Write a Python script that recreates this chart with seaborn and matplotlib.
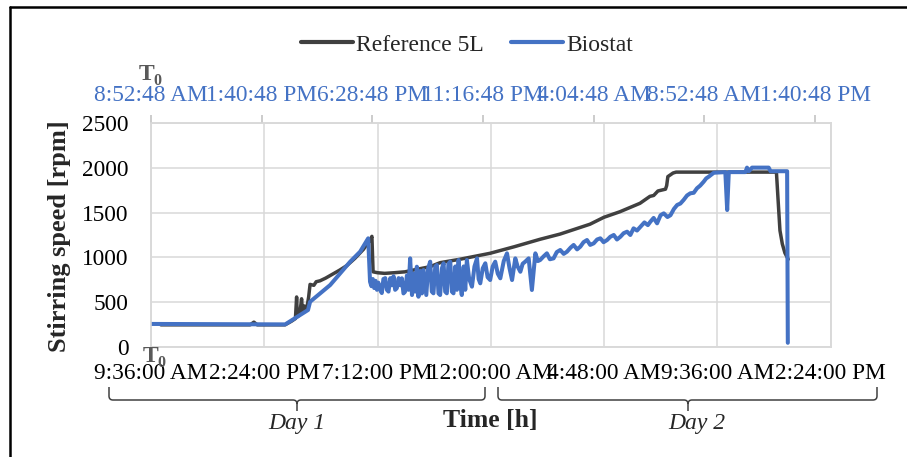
import numpy as np
import pandas as pd
import matplotlib
matplotlib.use("Agg")
import matplotlib.pyplot as plt
import seaborn as sns
from matplotlib.path import Path
from matplotlib.patches import PathPatch
from matplotlib.lines import Line2D

# ---------------- data ----------------
# Reference 5L: hours since 9:36:00 AM (bottom axis)
ref_h = [0.42, 4.2, 4.36, 4.5, 5.68, 5.95, 6.12, 6.17, 6.2, 6.3, 6.38, 6.42, 6.5, 6.6, 6.68,
         6.74, 6.9, 7.0, 7.16, 7.4, 7.6, 8.0, 8.3, 8.64, 9.0, 9.3, 9.36, 9.41, 9.6, 9.9,
         10.3, 10.76, 11.3, 11.82, 12.25, 13.09, 14.36, 15.4, 16.48, 17.33, 18.6,
         19.19, 19.87, 20.72, 21.14, 21.3, 21.48, 21.8, 21.85, 21.9, 22.12, 22.25,
         26.5, 26.58, 26.65, 26.75, 26.86, 27.0]
ref_rpm = [250, 250, 280, 250, 250, 290, 320, 560, 340, 360, 540, 380, 460, 430, 560,
           700, 690, 730, 740, 770, 800, 860, 910, 990, 1090, 1200, 1235, 840, 830, 823,
           830, 840, 870, 897, 942, 980, 1046, 1120, 1202, 1260, 1370,
           1447, 1509, 1603, 1680, 1690, 1740, 1760, 1800, 1900, 1940, 1950,
           1950, 1600, 1300, 1150, 1050, 980]

# Biostat: hours since 8:52:48 AM (top axis)
bio_h = [0, 5.82, 6.81, 6.9, 7.77, 8.64, 9.07, 9.42, 9.5,
         9.56, 9.62, 9.68, 9.74, 9.8, 9.86, 9.92, 10.01, 10.08, 10.16, 10.23, 10.3,
         10.38, 10.45, 10.52, 10.59, 10.66, 10.74, 10.81, 10.88, 10.95, 11.02, 11.1,
         11.17, 11.24, 11.32, 11.4, 11.46, 11.53, 11.6, 11.68, 11.75, 11.82, 11.94,
         12.02, 12.11, 12.18, 12.25, 12.33, 12.4, 12.47, 12.54, 12.62, 12.69, 12.76,
         12.83, 12.9, 12.98, 13.05, 13.12, 13.2, 13.27, 13.34, 13.41, 13.48, 13.56,
         13.63, 13.7, 13.8, 13.92, 14.03, 14.14, 14.21, 14.28, 14.39, 14.5, 14.6,
         14.71, 14.82, 14.93, 15.04, 15.15, 15.3, 15.44, 15.55, 15.66, 15.8, 15.9,
         16.02, 16.12, 16.23, 16.38, 16.52, 16.67, 16.78, 16.88, 17.02, 17.17, 17.3,
         17.46, 17.6, 17.75, 17.9, 18.04, 18.2, 18.33, 18.48, 18.62, 18.76, 18.91,
         19.05, 19.2, 19.35, 19.49, 19.63, 19.78, 19.92, 20.07, 20.21, 20.36, 20.5,
         20.65, 20.79, 20.93, 21.08, 21.22, 21.4, 21.55, 21.66, 21.8, 21.95, 22.1,
         22.24, 22.4, 22.53, 22.68, 22.82, 22.96, 23.1, 23.25, 23.39, 23.54, 23.68,
         23.82, 23.97, 24.08, 24.19, 24.41, 24.91, 24.99, 25.06, 25.78, 25.85, 25.93,
         26.07, 26.79, 26.87, 27.59, 27.62]
bio_rpm = [260, 255, 415, 507, 693, 953, 1064, 1213, 730,
           680, 760, 660, 740, 640, 720, 650, 604, 760, 770, 640, 620,
           770, 690, 790, 640, 657, 770, 690, 768, 600, 619, 800,
           640, 990, 582, 820, 620, 897, 563, 850, 600, 860, 582,
           880, 953, 620, 601, 900, 916, 600, 582, 880, 935, 620,
           601, 930, 953, 620, 601, 900, 640, 972, 700, 582, 900,
           640, 972, 760, 675, 900, 990, 760, 712, 880, 935, 780,
           749, 900, 953, 820, 768, 960, 1046, 880, 749, 990, 900,
           841, 930, 953, 990, 638, 1046, 960, 972, 1010, 1046, 980,
           990, 1060, 1083, 1040, 1064, 1110, 1139, 1090, 1120, 1170, 1194,
           1140, 1157, 1200, 1213, 1170, 1194, 1230, 1250, 1200, 1231, 1270,
           1287, 1250, 1324, 1300, 1340, 1390, 1360, 1398, 1440, 1380, 1470,
           1491, 1450, 1470, 1540, 1584, 1600, 1640, 1690, 1714, 1720, 1770,
           1800, 1843, 1880, 1899, 1943, 1950, 1528, 1950, 1950, 2000, 1960,
           2000, 2000, 1960, 1960, 50]

bottom_labels = ["9:36:00 AM", "2:24:00 PM", "7:12:00 PM", "12:00:00 AM",
                 "4:48:00 AM", "9:36:00 AM", "2:24:00 PM"]
top_labels = ["8:52:48 AM", "1:40:48 PM", "6:28:48 PM", "11:16:48 PM",
              "4:04:48 AM", "8:52:48 AM", "1:40:48 PM"]
y_ticks = [0, 500, 1000, 1500, 2000, 2500]

ref_df = pd.DataFrame({"h": ref_h, "rpm": ref_rpm})
bio_df = pd.DataFrame({"h": bio_h, "rpm": bio_rpm})

# ---------------- style ----------------
sns.set_style("white")
plt.rcParams["font.family"] = ["Liberation Serif", "DejaVu Serif"]

W, H = 907, 457
fig = plt.figure(figsize=(W / 100, H / 100), dpi=100)
fx = lambda x: x / W
fy = lambda y: 1 - y / H

L, R, T, B = 151, 830.7, 122.7, 347.3
ax = fig.add_axes([fx(L), fy(B), (R - L) / W, (B - T) / H])
ax2 = ax.twiny()

DARK = "#404040"
BLUE = "#4472C4"
GRID = "#d9d9d9"

sns.lineplot(data=ref_df, x="h", y="rpm", ax=ax, color=DARK, lw=2.5,
             estimator=None, sort=False, legend=False)
sns.lineplot(data=bio_df, x="h", y="rpm", ax=ax2, color=BLUE, lw=2.9,
             estimator=None, sort=False, legend=False)

ax.set_xlim(0, 28.8)
ax.set_ylim(0, 2500)
ax.set_xticks([i * 4.8 for i in range(7)])
ax.set_xticklabels(bottom_labels)
ax.set_yticks(y_ticks)
ax.set_yticklabels([str(v) for v in y_ticks])
ax.grid(True, color=GRID, lw=1.1)
ax.tick_params(axis="x", length=0, pad=11, labelsize=16.8, labelcolor="black")
ax.tick_params(axis="y", length=0, pad=16, labelsize=16.8, labelcolor="black")
ax.set_xlabel("")
ax.set_ylabel("Stirring speed [rpm]", fontsize=19, fontweight="bold")
ax.yaxis.set_label_coords(-0.1177, 0.495)

ax2.set_xlim(0, 29.48)
ax2.set_xticks([i * 4.8 for i in range(7)])
ax2.set_xticklabels(top_labels)
ax2.grid(False)
ax2.tick_params(axis="x", length=6, width=1.1, color="#bfbfbf", pad=6,
                labelsize=16.8, labelcolor=BLUE)
ax2.set_xlabel("")
ax2.set_ylabel("")

for a in (ax, ax2):
    for s in a.spines.values():
        s.set_color(GRID)
        s.set_linewidth(1.1)

# legend
h1 = Line2D([], [], color=DARK, lw=3)
h2 = Line2D([], [], color=BLUE, lw=3)
fig.legend([h1, h2], ["Reference 5L", "Biostat"], loc="center",
           bbox_to_anchor=(fx(467), fy(45)), ncol=2, frameon=False, fontsize=17,
           handlelength=2.2, handletextpad=0.15, columnspacing=1.15)

# T0 markers
GRAY = "#595959"
fig.text(fx(139), fy(80), "T", fontsize=17, fontweight="bold", color=GRAY, va="baseline")
fig.text(fx(153.5), fy(85), "0", fontsize=11.5, fontweight="bold", color=GRAY, va="baseline")
fig.text(fx(143), fy(362), "T", fontsize=17, fontweight="bold", color=GRAY, va="baseline")
fig.text(fx(157.5), fy(367), "0", fontsize=11.5, fontweight="bold", color=GRAY, va="baseline")

# braces
def brace(x0, x1, xc, ytop=387, yh=400, ytip=411, r=4):
    pts = [(x0, ytop), (x0, yh - r), (x0, yh), (x0 + r, yh), (xc - r, yh), (xc, yh),
           (xc, yh + r), (xc, ytip),
           (x1, ytop), (x1, yh - r), (x1, yh), (x1 - r, yh), (xc + r, yh), (xc, yh),
           (xc, yh + r)]
    codes = [Path.MOVETO, Path.LINETO, Path.CURVE3, Path.CURVE3, Path.LINETO,
             Path.CURVE3, Path.CURVE3, Path.LINETO,
             Path.MOVETO, Path.LINETO, Path.CURVE3, Path.CURVE3, Path.LINETO,
             Path.CURVE3, Path.CURVE3]
    verts = [(fx(x), fy(y)) for x, y in pts]
    patch = PathPatch(Path(verts, codes), transform=fig.transFigure, fill=False,
                      edgecolor=DARK, lw=1.1)
    fig.add_artist(patch)

brace(109, 485, 297)
brace(498, 877, 688)

fig.text(fx(297), fy(423), "Day 1", ha="center", va="center", fontsize=17, style="italic")
fig.text(fx(697), fy(424), "Day 2", ha="center", va="center", fontsize=17, style="italic")
fig.text(fx(490), fy(420), "Time [h]", ha="center", va="center", fontsize=18.5,
         fontweight="bold")

# outer frame (top and left edges visible)
fig.add_artist(Line2D([fx(10), 1], [fy(7), fy(7)], transform=fig.transFigure,
                      color="black", lw=1.8))
fig.add_artist(Line2D([fx(10), fx(10)], [fy(7), 0], transform=fig.transFigure,
                      color="black", lw=1.8))

fig.savefig("out.png", dpi=100)
